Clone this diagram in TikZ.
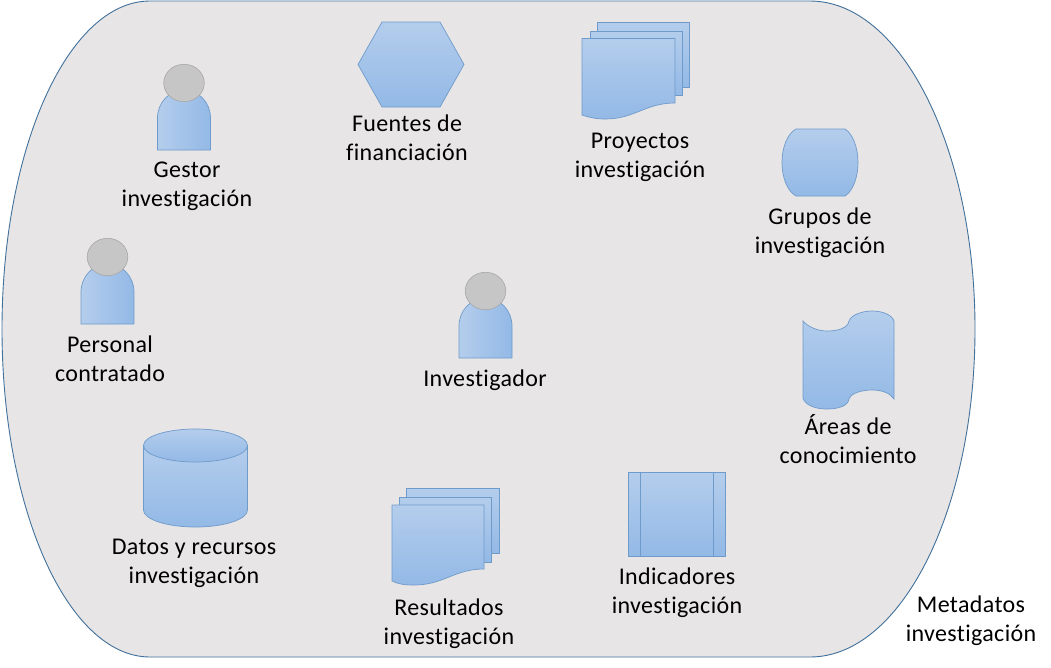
\documentclass[tikz,border=0pt]{standalone}
\usepackage{fontspec}
\setmainfont[RawFeature={-liga;-clig},LetterSpace=1.5]{Carlito}
\begin{document}
\begin{tikzpicture}[x=1pt,y=-1pt,
  shp/.style={draw=edgeblue,line width=0.7pt,top color=gradtop,bottom color=gradbot,shading angle=0},
  shph/.style={draw=edgeblue,line width=0.7pt,left color=gradtop,right color=gradbot},
  head/.style={draw=headedge,line width=0.6pt,fill=headfill},
  lbl/.style={align=center,inner sep=0pt,font=\fontsize{24}{29}\selectfont,text=black},
  person/.pic={
    \path[shph] (-26.5,0) -- (-26.5,-32) arc [start angle=180,end angle=360,x radius=26.5,y radius=28] -- (26.5,0) -- cycle;
    \path[head] (0,-67) ellipse [x radius=20.3,y radius=18.7];
  }
]
\definecolor{edgeblue}{HTML}{6F9BCB}
\definecolor{gradtop}{HTML}{B4CDEC}
\definecolor{gradbot}{HTML}{93B9E6}
\definecolor{headedge}{HTML}{A8A8A8}
\definecolor{headfill}{HTML}{C6C6C6}
\definecolor{bgfill}{HTML}{E7E5E5}
\definecolor{outeredge}{HTML}{41719C}
\useasboundingbox (0,0) rectangle (1051,667);
\fill[white] (0,0) rectangle (1051,667);
% outer shape
\path[draw=outeredge,line width=0.9pt,fill=bgfill]
  (150,1) -- (810,1) arc [start angle=-90,end angle=90,x radius=165,y radius=328]
  -- (150,657) arc [start angle=90,end angle=270,x radius=148,y radius=328] -- cycle;
% persons
\pic at (184,150) {person};
\pic at (107.5,324) {person};
\pic at (485.5,358) {person};
% hexagon
\path[shp] (382,22) -- (440,22) -- (464,64.5) -- (440,107) -- (382,107) -- (358,64.5) -- cycle;
% proyectos
\path[shp] (597,22) rectangle (689,87);
\path[shp] (590,31) rectangle (682,95);
\path[shp] (582,38.5) -- (675,38.5) -- (675,103) .. controls (645,103) and (635,119) .. (605,119) .. controls (595,119) and (588,117) .. (582,115) -- cycle;
% resultados
\path[shp] (406.5,488) rectangle (499,553);
\path[shp] (399,497) rectangle (491,562);
\path[shp] (392,505) -- (484,505) -- (484,569) .. controls (454,569) and (444,585) .. (414,585) .. controls (404,585) and (398,584) .. (392,581) -- cycle;
% grupos
\path[shp] (796,129) -- (845,129) .. controls (853,134) and (858,148) .. (858,162.5) .. controls (858,177) and (853,191) .. (845,196) -- (796,196) .. controls (787,191) and (782,177) .. (782,162.5) .. controls (782,148) and (787,134) .. (796,129) -- cycle;
% areas
\path[shp] (803,321) .. controls (808,327) and (818,331) .. (827,331) .. controls (838,331) and (848,328) .. (849,321) .. controls (851,315) and (862,311) .. (872,311) .. controls (883,311) and (892,315) .. (894,321) -- (894,399) .. controls (890,393) and (882,390) .. (872,390) .. controls (862,390) and (851,393) .. (849,399) .. controls (848,406) and (838,409) .. (827,409) .. controls (815,409) and (805,405) .. (803,398) -- cycle;
% indicadores
\path[shp] (628,472.5) rectangle (725.5,556);
\draw[edgeblue,line width=0.7pt] (640.5,472.5) -- (640.5,556) (713,472.5) -- (713,556);
% cylinder
\path[shp] (143.5,445.5) -- (143.5,510) arc [start angle=180,end angle=0,x radius=52,y radius=17] -- (247.5,445.5) -- cycle;
\path[shp] (195.5,445.5) ellipse [x radius=52,y radius=16.5];
% labels
\node[lbl] (gestor) at (187,186) {Gestor\\investigación};
\node[lbl] (fuentes) at (407,138) {Fuentes de\\financiación};
\node[lbl] (proyectos) at (640,157) {Proyectos\\investigación};
\node[lbl] (grupos) at (820,233) {Grupos de\\investigación};
\node[lbl] (personal) at (110,359) {Personal\\contratado};
\node[lbl] (investigador) at (485,380) {Investigador};
\node[lbl] (areas) at (848,439) {Áreas de\\conocimiento};
\node[lbl] (datos) at (194,563) {Datos y recursos\\investigación};
\node[lbl] (resultados) at (449,624) {Resultados\\investigación};
\node[lbl] (indicadores) at (677,593) {Indicadores\\investigación};
\node[lbl] (metadatos) at (971,621) {Metadatos\\investigación};
\end{tikzpicture}
\end{document}
